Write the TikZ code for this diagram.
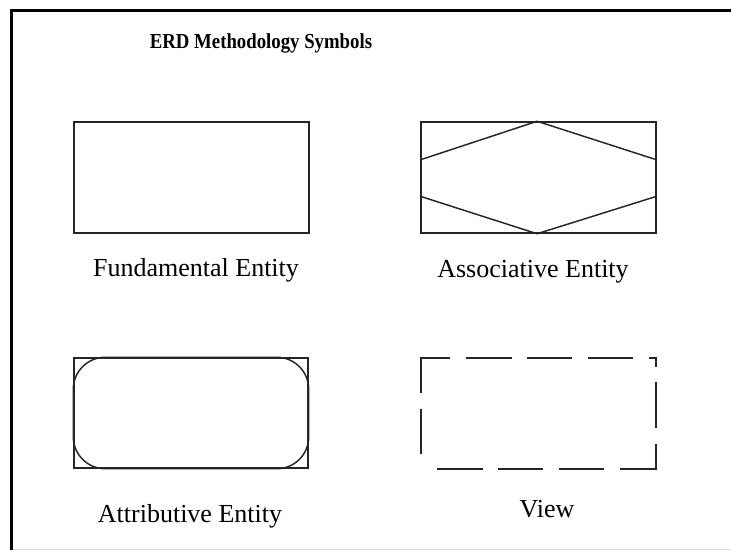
\documentclass[tikz,border=0pt]{standalone}
\usepackage{fontspec}
\setmainfont{Liberation Serif}
\usetikzlibrary{calc}
\begin{document}
\begin{tikzpicture}[x=0.75pt,y=-0.75pt,
  symbox/.style={draw=black!85, line width=1.1pt, inner sep=0pt, minimum width=176.25pt, minimum height=83.25pt},
  symline/.style={draw=black!85, line width=1.1pt},
  caption/.style={font=\fontsize{19.5pt}{22pt}\selectfont, inner sep=0pt},
  titlefont/.style={font=\bfseries\fontsize{16pt}{19pt}\selectfont, inner sep=0pt, xscale=0.88}]
\path[use as bounding box] (0,0) rectangle (731,550);
% frame
\draw[line width=2.25pt] (11.5,550) -- (11.5,10.5) -- (731,10.5);
\draw[black!15, line width=0.75pt] (13,549) -- (731,549);
% title
\node[titlefont] (title) at (261,43) {ERD Methodology Symbols};
% fundamental entity
\node[symbox] (fund) at (191.5,177.5) {};
\node[caption] (fundlbl) at (196,270) {Fundamental Entity};
% associative entity
\node[symbox] (assoc) at (538.5,177.5) {};
\coordinate (a1) at ($(assoc.north west)!0.343!(assoc.south west)$);
\coordinate (a2) at ($(assoc.north west)!0.667!(assoc.south west)$);
\coordinate (a3) at ($(assoc.north east)!0.343!(assoc.south east)$);
\coordinate (a4) at ($(assoc.north east)!0.667!(assoc.south east)$);
\coordinate (atop) at ($(assoc.north west)!0.494!(assoc.north east)$);
\coordinate (abot) at ($(assoc.south west)!0.494!(assoc.south east)$);
\draw[symline] (a1) -- (atop) -- (a3);
\draw[symline] (a2) -- (abot) -- (a4);
\node[caption] (assoclbl) at (533,272) {Associative Entity};
% attributive entity
\node[symbox, minimum width=175.5pt, minimum height=82.5pt] (attr) at (191,413) {};
\draw[symline, rounded corners=24pt] (attr.north west) rectangle (attr.south east);
\node[caption] (attrlbl) at (190,516) {Attributive Entity};
% view
\node[inner sep=0pt, minimum width=176.25pt, minimum height=83.25pt] (view) at (538.5,413.5) {};
\begin{scope}[symline]
\draw (421,393) -- (421,358) -- (450,358);
\draw (466,358) -- (512,358);
\draw (527,358) -- (572,358);
\draw (588,358) -- (633,358);
\draw (649,358) -- (656,358) -- (656,367);
\draw (656,382) -- (656,428);
\draw (656,444) -- (656,469) -- (620,469);
\draw (604,469) -- (559,469);
\draw (543,469) -- (498,469);
\draw (483,469) -- (437,469);
\draw (421,454) -- (421,409);
\end{scope}
\node[caption] (viewlbl) at (547,509) {View};
\end{tikzpicture}
\end{document}
